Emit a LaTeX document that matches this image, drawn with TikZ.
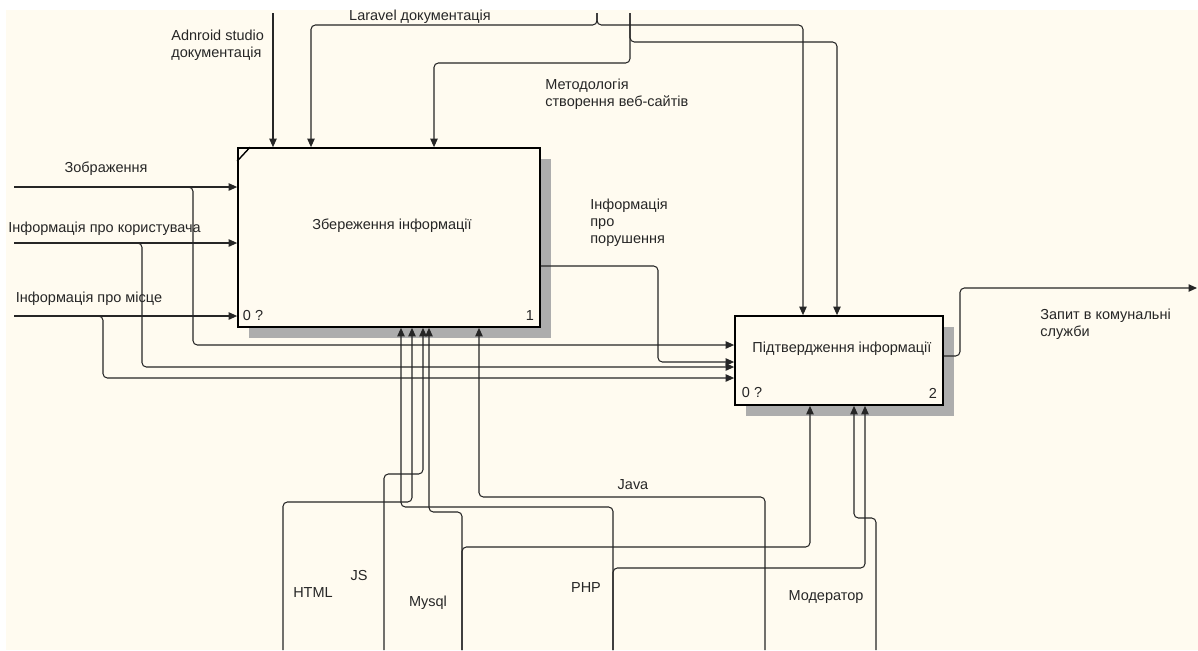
\documentclass[tikz,border=0pt]{standalone}
\usepackage{fontspec}
\setmainfont{Liberation Sans}
\usepackage{tikz}
\usetikzlibrary{arrows.meta, shadows}
\definecolor{tlo}{HTML}{FFFBF0}

\begin{document}
\begin{tikzpicture}[
	x=0.02cm, y=-0.02cm,
	font=\fontsize{8.25}{9.6}\selectfont,
	blok/.style={
		rectangle,
		draw=black,
		line width=1.1pt,
		fill=tlo,
		inner sep=0pt,
		outer sep=0.5pt,
		drop shadow={shadow xshift=0.22cm, shadow yshift=-0.22cm,
			fill=black!32, opacity=1}
	},
	strilka/.style={
		-{Triangle[length=4.8pt,width=4.2pt]},
		line width=0.6pt,
		black!85,
		rounded corners=2.5pt
	},
	pidpys/.style={
		text=black!85,
		inner sep=0pt,
		align=left
	}
	]
	% tlo
	\useasboundingbox (0,0) rectangle (1198,650);
	\fill[white] (0,0) rectangle (1198,650);
	\fill[tlo] (6,10) rectangle (1198,650);
	
	% bloky
	\node[blok, minimum width=6.04cm, minimum height=3.58cm] (zber) at (389,237.5) {};
	\node[blok, minimum width=4.16cm, minimum height=1.78cm] (pidtv) at (839,360.5) {};
	\draw[line width=0.8pt] (zber.north west) ++(0,14) -- ++(13,-14);
	\node[pidpys] (zbertxt) at (392,226) {Збереження інформації};
	\node[pidpys] (pidtvtxt) at (842,349) {Підтвердження інформації};
	\node[pidpys] (zber0) at (253,316) {0 ?};
	\node[pidpys] (zber1) at (530,316) {1};
	\node[pidpys] (pidtv0) at (752,393) {0 ?};
	\node[pidpys] (pidtv2) at (933,393) {2};
	
	% vkhody
	\coordinate (zobr) at (14,187);
	\coordinate (korys) at (14,243);
	\coordinate (mistse) at (14,316);
	\draw[strilka] (zobr) -- (zber.west |- zobr);
	\draw[strilka] (korys) -- (zber.west |- korys);
	\draw[strilka] (mistse) -- (zber.west |- mistse);
	\draw[strilka] (zobr) -- (193,187) -- (193,345) -- (pidtv.west |- 0,345);
	\draw[strilka] (korys) -- (142,243) -- (142,367) -- (pidtv.west |- 0,367);
	\draw[strilka] (mistse) -- (103,316) -- (103,378) -- (pidtv.west |- 0,378);
	\draw[strilka] (zber.east |- 0,266) -- (658,266) -- (658,362) -- (pidtv.west |- 0,362);
	\node[pidpys] (zobrtxt) at (106,169) {Зображення};
	\node[pidpys] (korystxt) at (104.5,229) {Інформація про користувача};
	\node[pidpys] (mistsetxt) at (89,299) {Інформація про місце};
	\node[pidpys, anchor=west] (porustxt) at (590,223) {Інформація\\про\\порушення};
	
	% keruvannia
	\coordinate (android) at (273,13);
	\coordinate (laravel) at (597,13);
	\coordinate (metod) at (630,13);
	\draw[strilka] (android) -- (zber.north -| android);
	\draw[strilka] (laravel) -- (597,25) -- (311,25) -- (zber.north -| 311,0);
	\draw[strilka] (laravel) -- (597,25) -- (803,25) -- (pidtv.north -| 803,0);
	\draw[strilka] (metod) -- (630,63) -- (434,63) -- (zber.north -| 434,0);
	\draw[strilka] (metod) -- (630,42) -- (837,42) -- (pidtv.north -| 837,0);
	\node[pidpys, anchor=west] (androidtxt) at (171,45.5) {Adnroid studio\\документація};
	\node[pidpys] (laraveltxt) at (420,17) {Laravel документація};
	\node[pidpys, anchor=west] (metodtxt) at (545,94.5) {Методологія\\створення веб-сайтів};
	
	% vykhid
	\coordinate (zapyt) at (1197,288);
	\draw[strilka] (pidtv.east |- 0,356) -- (960,356) -- (960,288) -- (zapyt);
	\node[pidpys, anchor=west] (zapyttxt) at (1040,324.5) {Запит в комунальні\\служби};
	
	% mekhanizmy
	\coordinate (html) at (283,650);
	\coordinate (js) at (384,650);
	\coordinate (mysql) at (462,650);
	\coordinate (php) at (613,650);
	\coordinate (java) at (765,650);
	\coordinate (moder) at (876,650);
	\draw[strilka] (html) -- (283,502) -- (412,502) -- (zber.south -| 412,0);
	\draw[strilka] (js) -- (384,474) -- (423,474) -- (zber.south -| 423,0);
	\draw[strilka] (php) -- (613,507) -- (401,507) -- (zber.south -| 401,0);
	\draw[strilka] (php) -- (613,568) -- (865,568) -- (pidtv.south -| 865,0);
	\draw[strilka] (mysql) -- (462,512) -- (429,512) -- (zber.south -| 429,0);
	\draw[strilka] (mysql) -- (462,547) -- (810,547) -- (pidtv.south -| 810,0);
	\draw[strilka] (java) -- (765,497) -- (479,497) -- (zber.south -| 479,0);
	\draw[strilka] (moder) -- (876,518) -- (854,518) -- (pidtv.south -| 854,0);
	\node[pidpys] (htmltxt) at (313,593) {HTML};
	\node[pidpys] (jstxt) at (359,576) {JS};
	\node[pidpys] (mysqltxt) at (428,603) {Mysql};
	\node[pidpys] (phptxt) at (586,588) {PHP};
	\node[pidpys] (javatxt) at (633,485) {Java};
	\node[pidpys] (modertxt) at (826,597) {Модератор};
\end{tikzpicture}
\end{document}
